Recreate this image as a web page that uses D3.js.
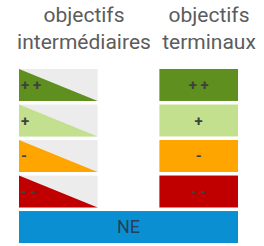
<!DOCTYPE html>
<html>
<head>
<meta charset="utf-8">
<script src="https://cdn.jsdelivr.net/npm/d3@7"></script>
<style>
  body { margin: 0; background: #fff; }
  svg { display: block; font-family: Roboto, "Noto Sans", sans-serif; }
</style>
</head>
<body>
<div id="chart"></div>
<script>
// legend data
var columns = ["intermediaires", "terminaux"];
var headers = [["objectifs", "intermédiaires"], ["objectifs", "terminaux"]];
var levels = ["++", "+", "-", "- -"];
var levelLabels = ["+ +", "+", "-", "- -"];
var levelColors = ["#5e8f1f", "#c3e08f", "#ffa500", "#c00000"];
var naLabel = "NE";
var naColor = "#0a90d2";

var width = 264, height = 246;

var svg = d3.select("#chart")
  .append("svg")
  .attr("width", width)
  .attr("height", height);

// rows: the four levels plus the NE row
var y = d3.scaleBand()
  .domain(levels.concat([naLabel]))
  .range([69, 243])
  .paddingInner(0.1);

var x = d3.scaleBand()
  .domain(columns)
  .range([19, 238])
  .paddingInner(0.44);

// header text sits a bit right of the box columns
var hx = d3.scalePoint().domain(columns).range([84, 209]);

headers.forEach(function(lines, c) {
  svg.append("text")
    .attr("x", hx(columns[c]))
    .attr("y", 22)
    .attr("text-anchor", "middle")
    .attr("font-size", "21px")
    .attr("fill", "#5c5c5c")
    .selectAll("tspan")
    .data(lines)
    .enter()
    .append("tspan")
    .attr("x", hx(columns[c]))
    .attr("dy", function(d, i) { return i == 0 ? 0 : 27; })
    .text(function(d) { return d; });
});

// intermediate objectives: grey box with coloured triangle
var left = svg.selectAll("g.inter")
  .data(levels)
  .enter()
  .append("g")
  .attr("class", "inter");

left.append("rect")
  .attr("x", x("intermediaires"))
  .attr("y", function(d) { return y(d); })
  .attr("width", x.bandwidth())
  .attr("height", y.bandwidth())
  .attr("fill", "#ececec");

left.append("path")
  .attr("d", function(d) {
    var x0 = x("intermediaires"), x1 = x0 + x.bandwidth();
    var y0 = y(d), y1 = y0 + y.bandwidth();
    return "M" + x0 + "," + y0 + "L" + x1 + "," + y1 + "L" + x0 + "," + y1 + "Z";
  })
  .attr("fill", function(d, i) { return levelColors[i]; });

left.append("text")
  .attr("x", x("intermediaires") + 2)
  .attr("y", function(d) { return y(d) + y.bandwidth() / 2; })
  .attr("dy", "0.35em")
  .attr("font-size", "15px")
  .attr("font-weight", "bold")
  .attr("fill", "#404040")
  .text(function(d, i) { return levelLabels[i]; });

// terminal objectives: full coloured box
var right = svg.selectAll("g.term")
  .data(levels)
  .enter()
  .append("g")
  .attr("class", "term");

right.append("rect")
  .attr("x", x("terminaux"))
  .attr("y", function(d) { return y(d); })
  .attr("width", x.bandwidth())
  .attr("height", y.bandwidth())
  .attr("fill", function(d, i) { return levelColors[i]; });

right.append("text")
  .attr("x", x("terminaux") + x.bandwidth() / 2)
  .attr("y", function(d) { return y(d) + y.bandwidth() / 2; })
  .attr("dy", "0.35em")
  .attr("text-anchor", "middle")
  .attr("font-size", "15px")
  .attr("font-weight", "bold")
  .attr("fill", "#404040")
  .text(function(d, i) { return levelLabels[i]; });

// NE row spans both columns
svg.append("rect")
  .attr("x", x.range()[0])
  .attr("y", y(naLabel))
  .attr("width", x.range()[1] - x.range()[0])
  .attr("height", y.bandwidth())
  .attr("fill", naColor);

svg.append("text")
  .attr("x", (x.range()[0] + x.range()[1]) / 2)
  .attr("y", y(naLabel) + y.bandwidth() / 2)
  .attr("dy", "0.35em")
  .attr("text-anchor", "middle")
  .attr("font-size", "18px")
  .attr("fill", "#24405a")
  .text(naLabel);
</script>
</body>
</html>
